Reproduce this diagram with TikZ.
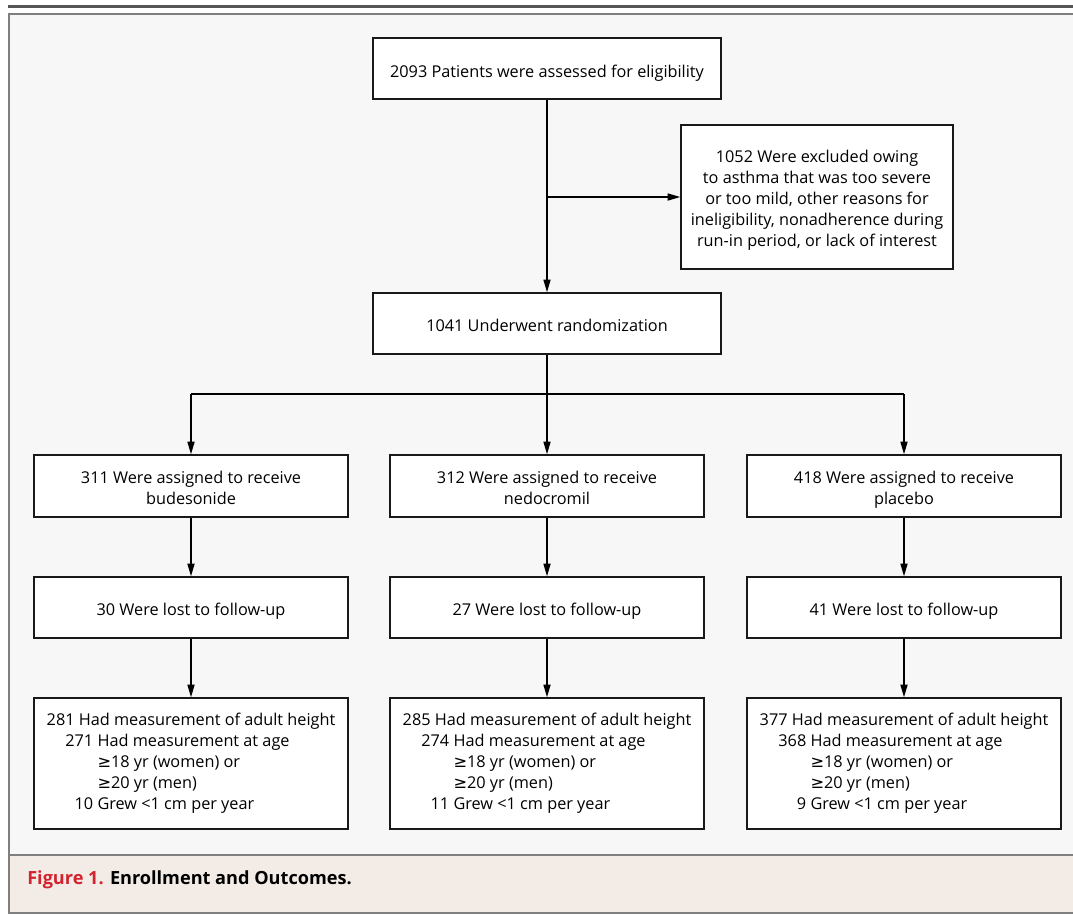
\documentclass[tikz,border=0pt]{standalone}
\usepackage{fontspec}
\setmainfont{Open Sans}
\newfontfamily\symf{DejaVu Sans}
\usetikzlibrary{arrows.meta}
\definecolor{framebg}{HTML}{F7F7F7}
\definecolor{capbg}{HTML}{F3EBE6}
\definecolor{framegray}{HTML}{7F7F7F}
\definecolor{rulegray}{HTML}{555555}
\definecolor{figred}{HTML}{D2232F}
\newcommand{\gsym}{{\symf ≥}}
\newcommand{\tstrut}{\rule{0pt}{16pt}}
\newcommand{\bodyfont}{\fontsize{12.2}{15.75}\selectfont}
\newcommand{\capfont}{\fontsize{13.6}{16}\selectfont\bfseries}
\begin{document}
\begin{tikzpicture}[x=0.75pt,y=-0.75pt,
  box/.style={draw=black!90,line width=1.1pt,fill=white,inner sep=0pt,align=center,font=\bodyfont},
  wide/.style={minimum width=261pt,minimum height=45.75pt},
  colbox/.style={minimum width=235.5pt},
  arr/.style={line width=1.1pt,-{Triangle[length=9.5pt,width=5.3pt]}},
  ln/.style={line width=1.1pt}]
\useasboundingbox (0,0) rectangle (1073,915);
% frame
\fill[framebg] (9,14) rectangle (1085,913);
\fill[capbg] (9,855) rectangle (1085,913);
\draw[framegray,line width=1.3pt] (1085,14) -- (9,14) -- (9,913) -- (1085,913);
\draw[framegray,line width=1pt] (9,855) -- (1085,855);
\draw[rulegray,line width=1.6pt] (8,6.5) -- (1073,6.5);
% nodes
\node[box,wide] (top) at (547,68.5) {\rule{0pt}{18pt}2093 Patients were assessed for eligibility\strut};
\node[box,minimum width=204pt,minimum height=108pt] (excl) at (817,197)
  {\tstrut 1052 Were excluded owing\\to asthma that was too severe\\or too mild, other reasons for\\ineligibility, nonadherence during\\run-in period, or lack of interest\strut};
\node[box,wide] (rand) at (547,323.5) {\tstrut 1041 Underwent randomization\strut};
\node[box,colbox,minimum height=46.5pt] (a1) at (191,486) {\tstrut 311 Were assigned to receive\\budesonide\strut};
\node[box,colbox,minimum height=46.5pt] (a2) at (547,486) {\tstrut 312 Were assigned to receive\\nedocromil\strut};
\node[box,colbox,minimum height=46.5pt] (a3) at (904,486) {\tstrut 418 Were assigned to receive\\placebo\strut};
\node[box,colbox,minimum height=45.75pt] (l1) at (191,607.5) {\tstrut 30 Were lost to follow-up\strut};
\node[box,colbox,minimum height=45.75pt] (l2) at (547,607.5) {\tstrut 27 Were lost to follow-up\strut};
\node[box,colbox,minimum height=45.75pt] (l3) at (904,607.5) {\tstrut 41 Were lost to follow-up\strut};
\node[box,colbox,minimum height=98.25pt,align=left] (f1) at (191,763.5)
  {\strut 281 Had measurement of adult height\\
   \hspace*{14pt}271 Had measurement at age\\
   \hspace*{14pt}\phantom{271 }\gsym18 yr (women) or\\
   \hspace*{14pt}\phantom{271 }\gsym20 yr (men)\\
   \hspace*{14pt}\phantom{2}10 Grew <1 cm per year\strut};
\node[box,colbox,minimum height=98.25pt,align=left] (f2) at (547,763.5)
  {\strut 285 Had measurement of adult height\\
   \hspace*{14pt}274 Had measurement at age\\
   \hspace*{14pt}\phantom{274 }\gsym18 yr (women) or\\
   \hspace*{14pt}\phantom{274 }\gsym20 yr (men)\\
   \hspace*{14pt}\phantom{2}11 Grew <1 cm per year\strut};
\node[box,colbox,minimum height=98.25pt,align=left] (f3) at (904,763.5)
  {\strut 377 Had measurement of adult height\\
   \hspace*{14pt}368 Had measurement at age\\
   \hspace*{14pt}\phantom{368 }\gsym18 yr (women) or\\
   \hspace*{14pt}\phantom{368 }\gsym20 yr (men)\\
   \hspace*{14pt}\phantom{22}9 Grew <1 cm per year\strut};
% connectors
\draw[arr] (top) -- (rand);
\coordinate (ex) at (top.south |- excl.west);
\draw[arr] (ex) -- (excl.west);
\coordinate (br) at (547,394);
\draw[ln] (rand.south) -- (br);
\draw[ln] (a1.north |- br) -- (a3.north |- br);
\draw[arr] (a1.north |- br) -- (a1.north);
\draw[arr] (br) -- (a2.north);
\draw[arr] (a3.north |- br) -- (a3.north);
\foreach \c in {1,2,3}{
  \draw[arr] (a\c) -- (l\c);
  \draw[arr] (l\c) -- (f\c);
}
% caption
\node[anchor=west,font=\capfont,inner sep=0pt] (cap) at (27,880)
  {\textcolor{figred}{Figure 1.} Enrollment and Outcomes.};
\end{tikzpicture}
\end{document}
